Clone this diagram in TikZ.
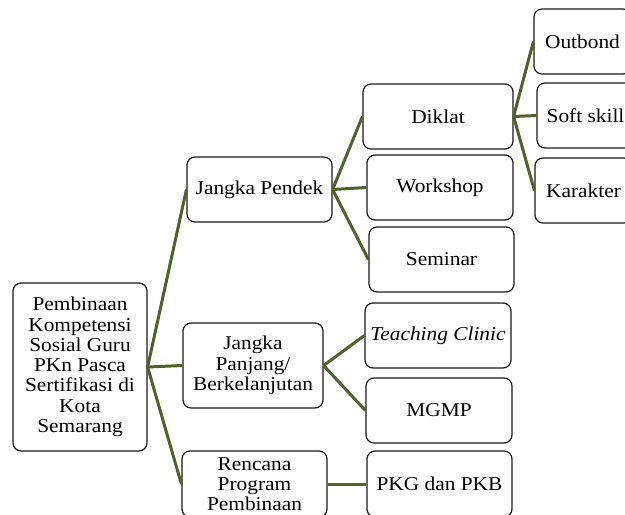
\documentclass[tikz,border=0pt]{standalone}
\usepackage{fontspec}
\setmainfont[FakeStretch=1.09]{Liberation Serif}
\definecolor{linkgreen}{HTML}{4F6228}
\definecolor{boxline}{HTML}{1A1A1A}
\begin{document}
\begin{tikzpicture}[x=1pt,y=-1pt,
  box/.style={draw=boxline, line width=1.2pt, rounded corners=8pt, fill=white,
    inner sep=0pt, align=center, font=\fontsize{19.6}{20.3}\selectfont},
  link/.style={draw=linkgreen, line width=3pt}]
\clip (0,0) rectangle (625,515);
\fill[white] (0,0) rectangle (625,515);
% nodes
\node[box, minimum width=134pt, minimum height=168pt] (root) at (80,367)
  {Pembinaan\\Kompetensi\\Sosial Guru\\PKn Pasca\\Sertifikasi di\\Kota\\Semarang};
\node[box, minimum width=145pt, minimum height=65pt] (jp) at (259.5,189.5) {Jangka Pendek};
\node[box, minimum width=140pt, minimum height=85pt] (jpj) at (253,365.5) {Jangka\\Panjang/\\Berkelanjutan};
\node[box, minimum width=145pt, minimum height=66pt] (rp) at (254.5,484) {Rencana\\Program\\Pembinaan};
\node[box, minimum width=150pt, minimum height=65pt] (diklat) at (438,116.5) {Diklat};
\node[box, minimum width=146pt, minimum height=65pt] (workshop) at (440,187.5) {Workshop};
\node[box, minimum width=145pt, minimum height=65pt] (seminar) at (441.5,259.5) {Seminar};
\node[box, minimum width=146pt, minimum height=65pt] (teaching) at (438,335.5) {\itshape Teaching Clinic};
\node[box, minimum width=146pt, minimum height=65pt] (mgmp) at (439,410.5) {MGMP};
\node[box, minimum width=145pt, minimum height=66pt] (pkg) at (439.5,484) {PKG dan PKB};
\node[box, minimum width=97pt, minimum height=65pt] (outbond) at (582.5,41.5) {Outbond};
\node[box, minimum width=97pt, minimum height=65pt] (softskill) at (585.5,115.5) {Soft skill};
\node[box, minimum width=97pt, minimum height=65pt] (karakter) at (583.5,190.5) {Karakter};
% connectors
\draw[link] (root.east) -- (jp.west);
\draw[link] (root.east) -- (jpj.west);
\draw[link] (root.east) -- (rp.west);
\draw[link] (jp.east) -- (diklat.west);
\draw[link] (jp.east) -- (workshop.west);
\draw[link] (jp.east) -- (seminar.west);
\draw[link] (diklat.east) -- (outbond.west);
\draw[link] (diklat.east) -- (softskill.west);
\draw[link] (diklat.east) -- (karakter.west);
\draw[link] (jpj.east) -- (teaching.west);
\draw[link] (jpj.east) -- (mgmp.west);
\draw[link] (rp.east) -- (pkg.west);
\end{tikzpicture}
\end{document}
